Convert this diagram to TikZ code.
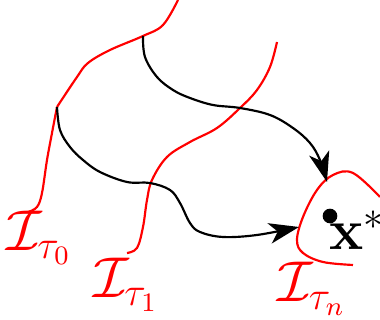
\documentclass[tikz,border=0pt]{standalone}
\usetikzlibrary{arrows.meta}
\begin{document}
\begin{tikzpicture}[x=0.3pt,y=-0.3pt,
  level/.style={draw=red,line width=0.65pt},
  flow/.style={draw=black,line width=0.65pt,-{Stealth[length=9pt,width=6.2pt,inset=2.5pt]}},
  lab/.style={text=red,font=\fontsize{16.5}{20}\selectfont},
  ]
\useasboundingbox (0,0) rectangle (380,320);
% red level curve tau_0
\coordinate (s1) at (143,36);
\coordinate (s2) at (57,107);
\draw[level] plot[smooth,tension=0.6] coordinates {(178,0) (163,25) (143,36) (110,50) (88,63) (77,77) (57,107)};
\draw[level] plot[smooth,tension=0.6] coordinates {(57,107) (52,133) (47,160) (42,193) (37,207) (28,212)};
% red level curve tau_1
\draw[level] plot[smooth,tension=0.6] coordinates {(277,42) (270,67) (257,90) (240,108) (217,128) (190,142) (167,157) (152,180) (147,200) (143,227) (137,248) (127,253)};
% red level curve tau_n
\draw[level] plot[smooth,tension=0.6] coordinates {(380,197) (353,173) (333,175) (317,190) (303,217) (297,240) (303,253) (323,262) (353,265)};
% optimum
\node[circle,fill=black,inner sep=0pt,minimum size=4.4pt] (dot) at (330,216) {};
\node[font=\LARGE,anchor=base west,inner sep=0pt] (xs) at (329,250) {$\mathbf{x}^*$};
\coordinate (t1) at (327,182);
\coordinate (t2) at (299,227);
% flow arrows
\draw[flow] plot[smooth,tension=0.6] coordinates {(s1) (145,57) (157,77) (173,90) (190,98) (213,105) (240,108) (270,115) (293,128) (310,143) (320,160) (t1)};
\draw[flow] plot[smooth,tension=0.6] coordinates {(s2) (60,130) (70,147) (83,160) (100,172) (127,182) (150,183) (170,190) (180,203) (190,223) (200,232) (223,237) (257,235) (t2)};
% labels
\node[lab] (l0) at (39,238) {$\mathcal{I}_{\tau_0}$};
\node[lab] (l1) at (126,285) {$\mathcal{I}_{\tau_1}$};
\node[lab] (ln) at (312,289) {$\mathcal{I}_{\tau_n}$};
\end{tikzpicture}
\end{document}
